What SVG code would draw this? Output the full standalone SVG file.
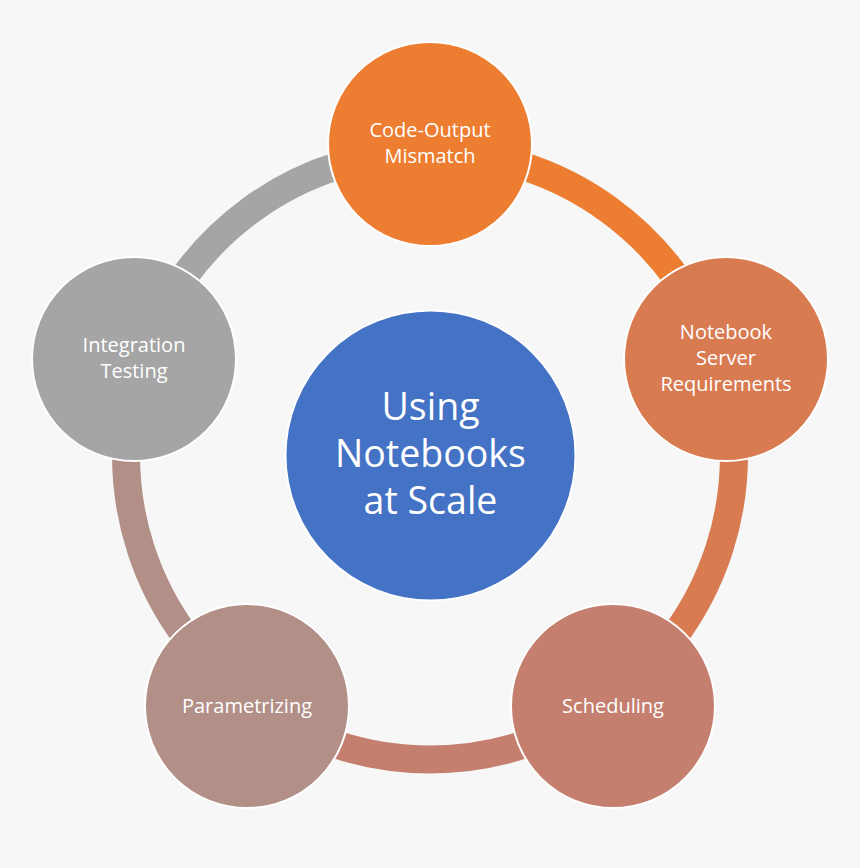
<svg xmlns="http://www.w3.org/2000/svg" width="860" height="868" viewBox="0 0 860 868">
<style>
.seg{fill:none;stroke-width:28;stroke-linecap:butt}
.node{stroke:#fff;stroke-width:2}
.lbl{font-family:"Open Sans","Noto Sans",sans-serif;font-size:20px;fill:#fff;text-anchor:middle}
.big{font-family:"Open Sans","Noto Sans",sans-serif;font-size:37.5px;fill:#fff;text-anchor:middle}
</style>
<rect width="860" height="868" fill="#F7F7F7"/>
<g id="connectors">
<path class="seg" stroke="#ED7D31" d="M430,151.5 A304,304 0 0 1 719.1,361.6"/>
<path class="seg" stroke="#D87B51" d="M719.1,361.6 A304,304 0 0 1 608.7,701.4"/>
<path class="seg" stroke="#C47F6F" d="M608.7,701.4 A304,304 0 0 1 251.3,701.4"/>
<path class="seg" stroke="#B28F87" d="M251.3,701.4 A304,304 0 0 1 140.9,361.6"/>
<path class="seg" stroke="#A5A5A5" d="M140.9,361.6 A304,304 0 0 1 430,151.5"/>
</g>
<g id="center">
<circle class="node" cx="430.5" cy="455.5" r="145" fill="#4472C4"/>
<text class="big" x="430.5" y="420">Using</text>
<text class="big" x="430.5" y="467">Notebooks</text>
<text class="big" x="430.5" y="514">at Scale</text>
</g>
<g id="code-output">
<circle class="node" cx="430" cy="144" r="102" fill="#ED7D31"/>
<text class="lbl" x="430" y="137">Code-Output</text>
<text class="lbl" x="430" y="163">Mismatch</text>
</g>
<g id="notebook-server">
<circle class="node" cx="726" cy="359" r="102" fill="#D87B51"/>
<text class="lbl" x="726" y="339">Notebook</text>
<text class="lbl" x="726" y="365">Server</text>
<text class="lbl" x="726" y="391">Requirements</text>
</g>
<g id="scheduling">
<circle class="node" cx="613" cy="706" r="102" fill="#C47F6F"/>
<text class="lbl" x="613" y="713">Scheduling</text>
</g>
<g id="parametrizing">
<circle class="node" cx="247" cy="706" r="102" fill="#B28F87"/>
<text class="lbl" x="247" y="713">Parametrizing</text>
</g>
<g id="integration-testing">
<circle class="node" cx="134" cy="359" r="102" fill="#A5A5A5"/>
<text class="lbl" x="134" y="352">Integration</text>
<text class="lbl" x="134" y="378">Testing</text>
</g>
</svg>
